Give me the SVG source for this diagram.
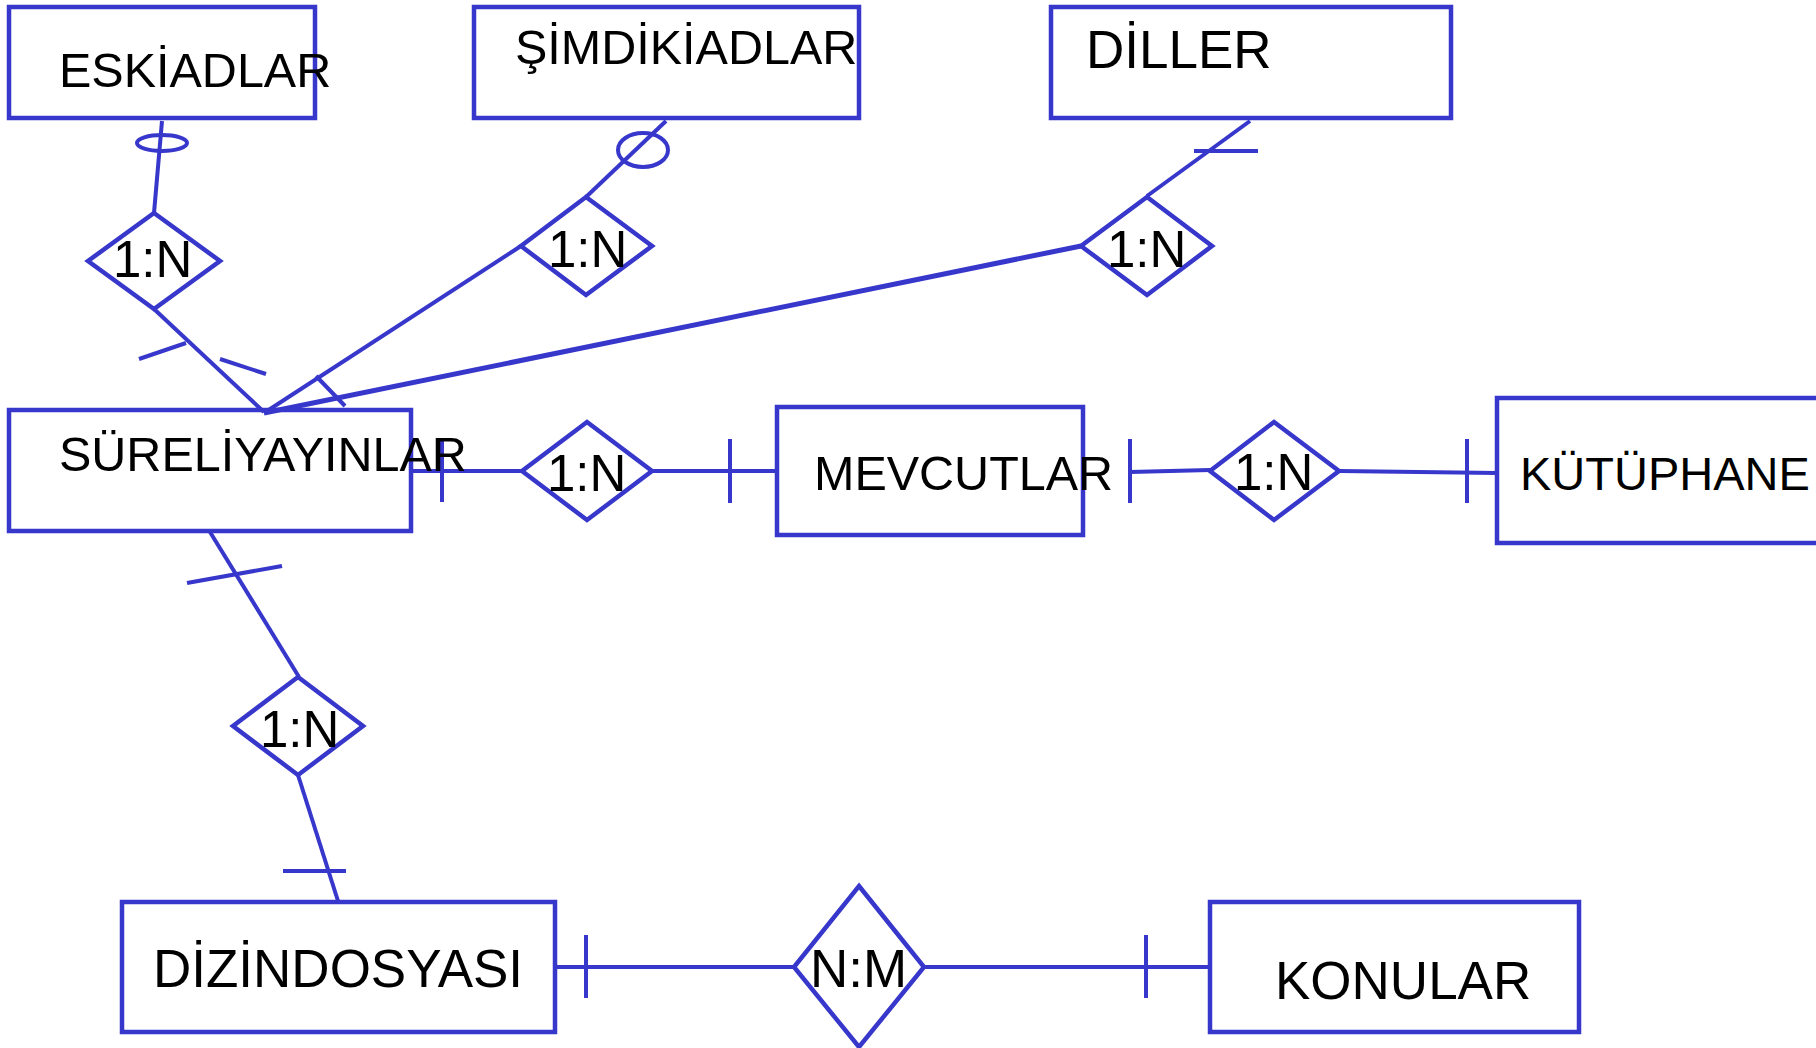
<svg xmlns="http://www.w3.org/2000/svg" width="1816" height="1048" viewBox="0 0 1816 1048">
<style>
.box{fill:none;stroke:#3737CC;stroke-width:4.5}
.rel{fill:#fff;stroke:#3737CC;stroke-width:4.5}
.ln{fill:none;stroke:#3737CC;stroke-width:4}
.t{font-family:"Liberation Sans",Arial,sans-serif;font-size:48.5px;fill:#000}
.t52{font-family:"Liberation Sans",Arial,sans-serif;font-size:53px;fill:#000}
.r{font-family:"Liberation Sans",Arial,sans-serif;font-size:51px;fill:#000}
</style>
<rect width="1816" height="1048" fill="#fff"/>
<g id="connectors">
<line class="ln" x1="162" y1="121" x2="154" y2="213"/>
<ellipse class="ln" cx="162" cy="143" rx="25" ry="8"/>
<line class="ln" x1="154" y1="309" x2="264" y2="412"/>
<line class="ln" x1="139" y1="359" x2="186" y2="343"/>
<line class="ln" x1="220" y1="359" x2="266" y2="374"/>
<line class="ln" x1="666" y1="121" x2="586" y2="197"/>
<ellipse class="ln" cx="643" cy="150" rx="25" ry="17"/>
<line class="ln" x1="521" y1="246" x2="264" y2="413"/>
<line class="ln" x1="316" y1="376" x2="345" y2="406"/>
<line class="ln" x1="1250" y1="121" x2="1147" y2="196"/>
<line class="ln" x1="1194" y1="151" x2="1258" y2="151"/>
<line class="ln" x1="1081" y1="246" x2="264" y2="413" style="stroke-width:5"/>
<line class="ln" x1="411" y1="471" x2="522" y2="471"/>
<line class="ln" x1="442" y1="440" x2="442" y2="502"/>
<line class="ln" x1="652" y1="471" x2="777" y2="471"/>
<line class="ln" x1="730" y1="439" x2="730" y2="503"/>
<line class="ln" x1="1130" y1="472" x2="1210" y2="470"/>
<line class="ln" x1="1130" y1="439" x2="1130" y2="503"/>
<line class="ln" x1="1339" y1="471" x2="1497" y2="473"/>
<line class="ln" x1="1467" y1="439" x2="1467" y2="503"/>
<line class="ln" x1="210" y1="532" x2="299" y2="677"/>
<line class="ln" x1="187" y1="583" x2="282" y2="566"/>
<line class="ln" x1="298" y1="775" x2="338" y2="901"/>
<line class="ln" x1="283" y1="871" x2="346" y2="871"/>
<line class="ln" x1="554" y1="967" x2="794" y2="967"/>
<line class="ln" x1="586" y1="935" x2="586" y2="998"/>
<line class="ln" x1="924" y1="967" x2="1210" y2="967"/>
<line class="ln" x1="1146" y1="935" x2="1146" y2="998"/>
</g>
<g id="eskiadlar"><rect class="box" x="9" y="7" width="306" height="111"/><text class="t" x="59" y="87">ESKİADLAR</text></g>
<g id="simdikiadlar"><rect class="box" x="474" y="7" width="385" height="111"/><text class="t" x="515" y="64">ŞİMDİKİADLAR</text></g>
<g id="diller"><rect class="box" x="1051" y="7" width="400" height="111"/><text class="t52" x="1086" y="68">DİLLER</text></g>
<g id="sureliyayinlar"><rect class="box" x="9" y="410" width="402" height="121"/><text class="t" x="59" y="471">SÜRELİYAYINLAR</text></g>
<g id="mevcutlar"><rect class="box" x="777" y="407" width="306" height="128"/><text class="t" x="814" y="490">MEVCUTLAR</text></g>
<g id="kutuphane"><rect class="box" x="1497" y="398" width="340" height="145"/><text class="t" x="1520" y="490" style="font-size:47px">KÜTÜPHANE</text></g>
<g id="dizindosyasi"><rect class="box" x="122" y="902" width="433" height="130"/><text class="t52" x="153" y="987">DİZİNDOSYASI</text></g>
<g id="konular"><rect class="box" x="1210" y="902" width="369" height="130"/><text class="t52" x="1275" y="999">KONULAR</text></g>
<g id="rel-eski"><polygon class="rel" points="154,213 220,261 154,309 88,261"/><text class="r" x="113" y="277">1:N</text></g>
<g id="rel-simdiki"><polygon class="rel" points="586,197 652,246 586,295 521,246"/><text class="r" x="548" y="267">1:N</text></g>
<g id="rel-diller"><polygon class="rel" points="1147,197 1212,246 1147,295 1081,246"/><text class="r" x="1107" y="267">1:N</text></g>
<g id="rel-mevcut"><polygon class="rel" points="587,422 652,471 587,520 522,471"/><text class="r" x="547" y="491">1:N</text></g>
<g id="rel-kutuphane"><polygon class="rel" points="1274,422 1339,471 1274,520 1210,471"/><text class="r" x="1234" y="490">1:N</text></g>
<g id="rel-dizin"><polygon class="rel" points="298,677 363,726 298,775 233,726"/><text class="r" x="260" y="747">1:N</text></g>
<g id="rel-konular"><polygon class="rel" points="859,886 924,967 859,1047 794,967"/><text class="t52" x="810" y="987">N:M</text></g>
</svg>
